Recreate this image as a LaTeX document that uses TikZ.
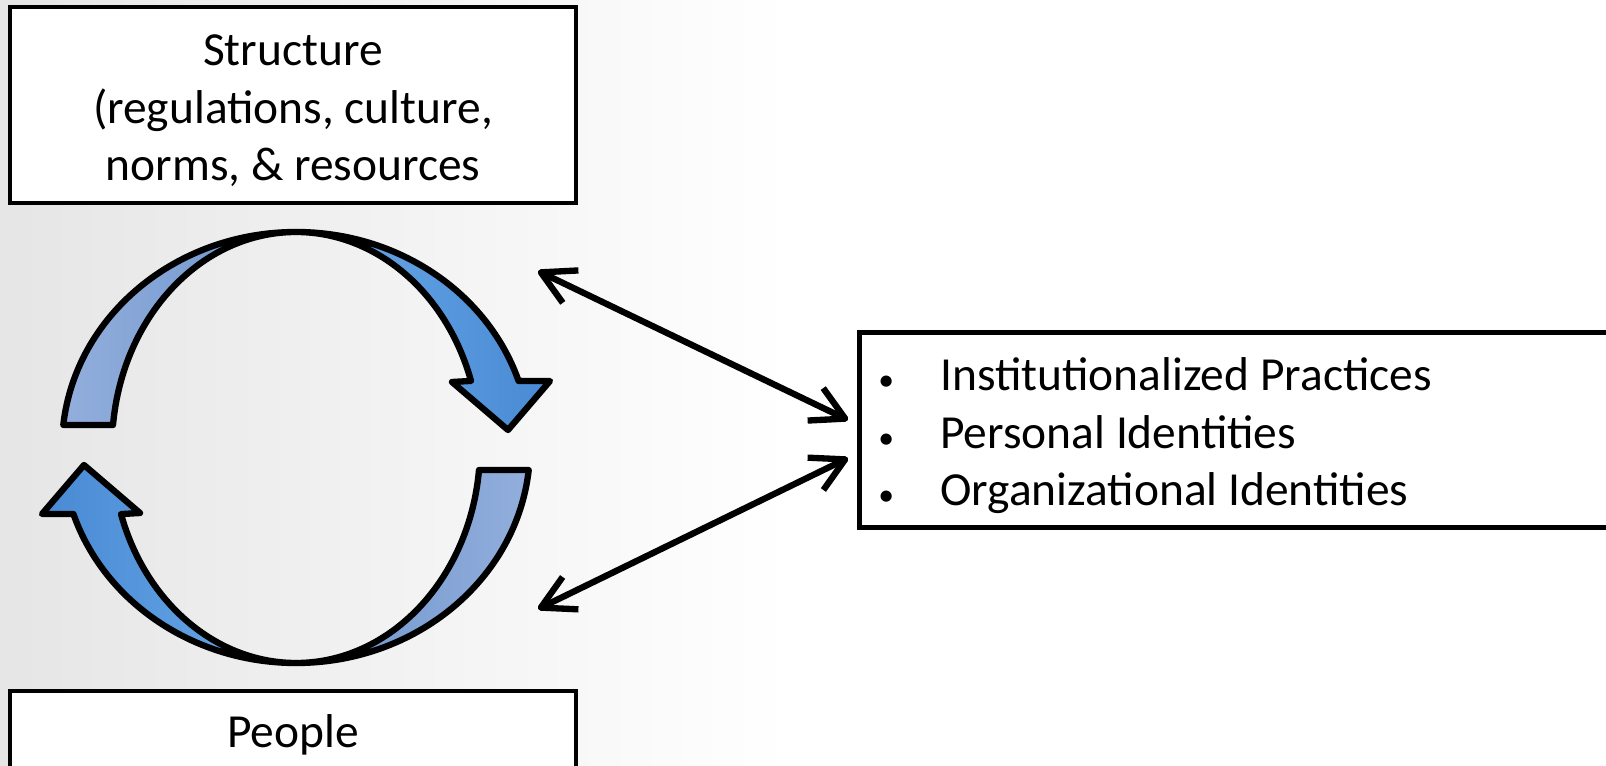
\documentclass[tikz,border=0pt]{standalone}
\usepackage{fontspec}
\setmainfont{Carlito}
\usepackage{tikz}
\usetikzlibrary{positioning,arrows.meta,calc}

\definecolor{frontlight}{RGB}{108,170,232}
\definecolor{frontdark}{RGB}{72,138,212}
\definecolor{backlight}{RGB}{146,174,220}
\definecolor{backdark}{RGB}{108,148,204}

\newcommand{\smallbullet}{\makebox[0.64cm][l]{\hspace{0.02cm}\fontsize{9}{9}\selectfont\textbullet}}

\begin{document}
\begin{tikzpicture}[
  txt/.style={font=\fontsize{13.5}{16.3}\selectfont},
  box/.style={txt, draw=black, line width=1.3pt, fill=white},
  frontpart/.style={draw=black, line width=1.8pt, line join=round},
  backpart/.style={draw=black, line width=1.8pt, line join=round},
  link/.style={draw=black, line width=1.8pt, line cap=round,
    {Straight Barb[length=3.3mm,width=3.6mm,line join=round]}-{Straight Barb[length=3.3mm,width=3.6mm,line join=round]}}
]

\useasboundingbox (0,0) rectangle (16.06,7.65);
\clip (0,0) rectangle (16.06,7.65);
\fill[white] (0,0) rectangle (16.06,7.65);
\fill[left color=gray!20, right color=white] (0,0) rectangle (7.9,7.65);

\node[box, minimum width=5.66cm, minimum height=1.96cm, text width=5.3cm, align=flush center,
  text height=0.4cm, text depth=1.18cm] (structure) at (2.93,6.60)
  {Structure\\(regulations, culture,\\norms, \& resources};
\node[box, minimum width=5.66cm, minimum height=0.88cm] (people) at (2.93,0.30) {People};
\node[box, anchor=west, text width=8cm, minimum height=1.955cm, inner xsep=0.17cm, align=flush left,
  text height=0.4cm, text depth=1.18cm] (practices) at (8.57,3.35)
  {\smallbullet Institutionalized Practices\\
   \smallbullet Personal Identities\\
   \smallbullet Organizational Identities};

\coordinate (c) at (2.96,3.175);

% upper loop arrow
\draw[backpart, left color=backlight, right color=backdark]
  ($(c)+(174:2.34 and 2.155)$) arc[start angle=174, end angle=90, x radius=2.34, y radius=2.155]
  arc[start angle=90, end angle=174, x radius=1.84, y radius=2.155] -- cycle;
\draw[frontpart, left color=frontlight, right color=frontdark]
  ($(c)+(90:2.34 and 2.155)$) arc[start angle=90, end angle=18, x radius=2.34, y radius=2.155]
  -- (5.50,3.84) -- (5.08,3.35) -- (4.52,3.83)
  -- ($(c)+(18:1.84 and 2.155)$) arc[start angle=18, end angle=90, x radius=1.84, y radius=2.155] -- cycle;

% lower loop arrow
\draw[backpart, left color=backdark, right color=backlight]
  ($(c)+(354:2.34 and 2.155)$) arc[start angle=354, end angle=270, x radius=2.34, y radius=2.155]
  arc[start angle=270, end angle=354, x radius=1.84, y radius=2.155] -- cycle;
\draw[frontpart, left color=frontdark, right color=frontlight]
  ($(c)+(270:2.34 and 2.155)$) arc[start angle=270, end angle=198, x radius=2.34, y radius=2.155]
  -- (0.42,2.51) -- (0.84,3.00) -- (1.40,2.52)
  -- ($(c)+(198:1.84 and 2.155)$) arc[start angle=198, end angle=270, x radius=1.84, y radius=2.155] -- cycle;

\coordinate (loopne) at (5.38,4.94);
\coordinate (loopse) at (5.38,1.56);
\draw[link] (loopne) -- ([shift={(-0.09,0.10)}]practices.west);
\draw[link] (loopse) -- ([shift={(-0.09,-0.28)}]practices.west);

\end{tikzpicture}
\end{document}
